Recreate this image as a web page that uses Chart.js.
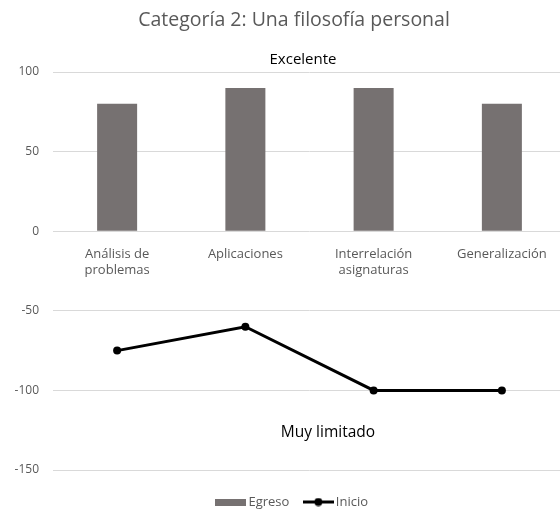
<!DOCTYPE html>
<html>
<head>
<meta charset="utf-8">
<script src="https://cdn.jsdelivr.net/npm/chart.js@4/dist/chart.umd.min.js"></script>
<style>
  html, body { margin: 0; padding: 0; background: #fff; overflow: hidden; }
  #wrap { width: 588px; height: 512px; }
</style>
</head>
<body>
<div id="wrap"><canvas id="grafico" width="588" height="512"></canvas></div>
<script>
// Datos del gráfico
const categorias = [['Análisis de', 'problemas'], 'Aplicaciones', ['Interrelación', 'asignaturas'], 'Generalización'];
const egreso = [80, 90, 90, 80];
const inicio = [-75, -60, -100, -100];
const ticksY = [-150, -100, -50, 0, 50, 100];

const gris = '#595959';
const fuente = '"Open Sans", "Noto Sans", sans-serif';

// Iconos de la leyenda
function iconoBarra() {
    const c = document.createElement('canvas');
    c.width = 31; c.height = 7;
    const x = c.getContext('2d');
    x.fillStyle = '#767171';
    x.fillRect(0, 0, 31, 7);
    return c;
}

function iconoLinea() {
    const c = document.createElement('canvas');
    c.width = 31; c.height = 9;
    const x = c.getContext('2d');
    x.strokeStyle = '#000';
    x.lineWidth = 3;
    x.beginPath(); x.moveTo(0, 4.5); x.lineTo(31, 4.5); x.stroke();
    x.fillStyle = '#000';
    x.beginPath(); x.arc(15.5, 4.5, 4, 0, Math.PI * 2); x.fill();
    return c;
}

// Textos "Excelente" y "Muy limitado"
const notas = {
    id: 'notas',
    afterDraw(chart) {
        const ctx = chart.ctx;
        ctx.save();
        ctx.fillStyle = '#000';
        ctx.textAlign = 'center';
        ctx.textBaseline = 'alphabetic';
        ctx.font = '15px ' + fuente;
        ctx.fillText('Excelente', 303, 64);
        ctx.font = '15.5px ' + fuente;
        ctx.fillText('Muy limitado', 328, 437);
        ctx.restore();
    }
};

const ctx = document.getElementById('grafico').getContext('2d');
const grafico = new Chart(ctx, {
    type: 'bar',
    data: {
        labels: categorias,
        datasets: [{
            label: 'Egreso',
            data: egreso,
            backgroundColor: '#767171',
            categoryPercentage: 1,
            barPercentage: 0.312
        }, {
            type: 'line',
            label: 'Inicio',
            data: inicio,
            borderColor: '#000',
            backgroundColor: '#000',
            borderWidth: 3,
            pointRadius: 4,
            pointBackgroundColor: '#000',
            pointBorderWidth: 0,
            tension: 0
        }]
    },
    options: {
        responsive: false,
        animation: false,
        devicePixelRatio: 1,
        layout: { padding: { left: 0, right: 0, top: 0, bottom: -6.5 } },
        scales: {
            x: {
                position: { y: 0 },
                grid: { display: false },
                border: { display: false },
                ticks: {
                    color: gris,
                    font: { family: fuente, size: 13, lineHeight: 1.25 },
                    padding: 7,
                    maxRotation: 0,
                    autoSkip: false
                }
            },
            y: {
                min: -150,
                max: 100,
                afterBuildTicks: s => { s.ticks = ticksY.map(v => ({ value: v })); },
                afterFit: s => { s.width = 53; },
                grid: { color: '#d9d9d9', drawTicks: false },
                border: { display: false },
                ticks: {
                    color: gris,
                    font: { family: fuente, size: 12 },
                    padding: 14
                }
            },
            // eje derecho vacío, solo deja el margen del área de trazado
            y2: {
                position: 'right',
                grid: { display: false },
                border: { display: false },
                ticks: { display: false },
                afterFit: s => { s.width = 22; }
            }
        },
        plugins: {
            title: {
                display: true,
                text: 'Categoría 2: Una filosofía personal',
                color: gris,
                font: { family: fuente, size: 19.5, weight: 'normal' },
                padding: { top: 8.5, bottom: 40.1 }
            },
            legend: {
                position: 'bottom',
                title: { display: true, text: '', font: { size: 7.5, lineHeight: 1 }, padding: 0 },
                labels: {
                    usePointStyle: true,
                    pointStyleWidth: 22,
                    boxHeight: 9,
                    padding: 18,
                    color: gris,
                    font: { family: fuente, size: 13 },
                    generateLabels: chart => chart.data.datasets.map((ds, i) => ({
                        text: ds.label,
                        pointStyle: i === 0 ? iconoBarra() : iconoLinea(),
                        fontColor: gris,
                        fillStyle: 'transparent',
                        strokeStyle: 'transparent',
                        lineWidth: 0,
                        hidden: false,
                        datasetIndex: i
                    }))
                }
            },
            tooltip: { enabled: false }
        }
    },
    plugins: [notas]
});
</script>
</body>
</html>
